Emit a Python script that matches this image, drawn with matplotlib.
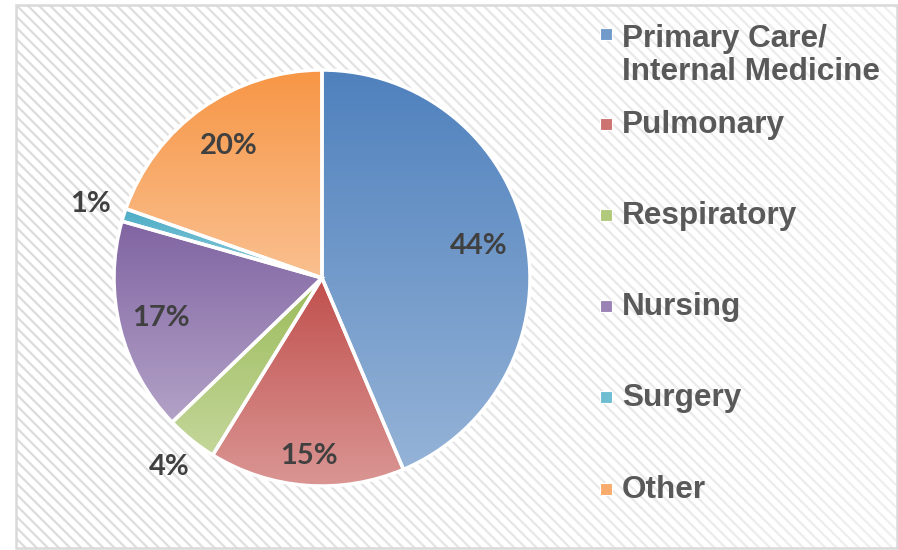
import matplotlib.pyplot as plt
import numpy as np
from matplotlib.colors import to_rgb
from matplotlib.patches import Rectangle

categories = ["Primary Care/\nInternal Medicine", "Pulmonary", "Respiratory",
              "Nursing", "Surgery", "Other"]
shares = [43.6, 15.2, 4.0, 16.6, 1.0, 19.6]
top_colors = ["#4F81BD", "#C0504D", "#9BBB59", "#8064A2", "#4BACC6", "#F79646"]
bottom_colors = ["#95B3D7", "#DA9694", "#C4D79B", "#B3A2C7", "#92CDDC", "#FAC090"]

W, H = 898, 550
plt.rcParams["hatch.linewidth"] = 1.6

fig = plt.figure(figsize=(W / 100, H / 100), dpi=100)

# hatched chart area with a light border, fading to the right
bg = fig.add_axes([16 / W, 2 / H, 881 / W, 543 / H])
bg.set_xlim(0, 1)
bg.set_ylim(0, 1)
bg.axis("off")
bg.add_patch(Rectangle((0, 0), 1, 1, facecolor="white", edgecolor="#DCDCDC",
                       hatch="\\\\\\", lw=0))
fade = np.ones((2, 256, 4))
fade[..., 3] = np.linspace(0.0, 0.55, 256)[None, :]
bg.imshow(fade, extent=(0, 1, 0, 1), aspect="auto", zorder=2)
bg.add_patch(Rectangle((0, 0), 1, 1, fill=False, edgecolor="#D9D9D9", lw=1.8,
                       clip_on=False, zorder=3))
bg.set_xlim(0, 1)
bg.set_ylim(0, 1)

# pie
ax = fig.add_axes([62 / W, 12 / H, 520 / W, 520 / H])
ax.set_facecolor("none")
wedges, texts, autotexts = ax.pie(
    shares, colors=top_colors, startangle=90, counterclock=False,
    autopct="%.0f%%", pctdistance=0.8,
    wedgeprops=dict(edgecolor="white", linewidth=2.5),
    textprops=dict(family="Lato", fontweight="bold", fontsize=21, color="#404040"),
)

# label distance from centre, as a fraction of the radius (best-fit look)
label_radius = [0.77, 0.86, 1.17, 0.8, 1.17, 0.78]
for w, at, r, c0, c1 in zip(wedges, autotexts, label_radius, top_colors, bottom_colors):
    ext = w.get_path().get_extents()
    t = np.linspace(0, 1, 256)[:, None, None]
    grad = (1 - t) * np.array(to_rgb(c0)) + t * np.array(to_rgb(c1))
    grad = np.repeat(grad, 2, axis=1)
    img = ax.imshow(grad, extent=(ext.x0, ext.x1, ext.y0, ext.y1),
                    aspect="auto", origin="upper", zorder=1)
    img.set_clip_path(w)
    w.set_facecolor("none")
    w.set_zorder(2)
    at.set_zorder(4)
    mid = np.deg2rad((w.theta1 + w.theta2) / 2)
    at.set_position((r * np.cos(mid), r * np.sin(mid)))

ax.set_xlim(-1.25, 1.25)
ax.set_ylim(-1.25, 1.25)
ax.axis("off")

# legend drawn by hand to follow the original spacing
baselines = [43, 133, 224, 315, 406, 498]
line_step = 37
for cat, base, c0, c1 in zip(categories, baselines, top_colors, bottom_colors):
    mid_col = tuple((np.array(to_rgb(c0)) + np.array(to_rgb(c1))) / 2)
    fig.patches.append(Rectangle((600 / W, 1 - (base - 3) / H), 12 / W, 12 / H,
                                 transform=fig.transFigure, facecolor=mid_col,
                                 edgecolor="white", lw=0.8))
    last_base = base + line_step * cat.count("\n")
    fig.text(622 / W, 1 - last_base / H, cat, va="baseline", ha="left",
             family="Liberation Sans", fontweight="bold", fontsize=22.7,
             color="#595959", linespacing=1.12)

fig.savefig("out.png", dpi=100)
